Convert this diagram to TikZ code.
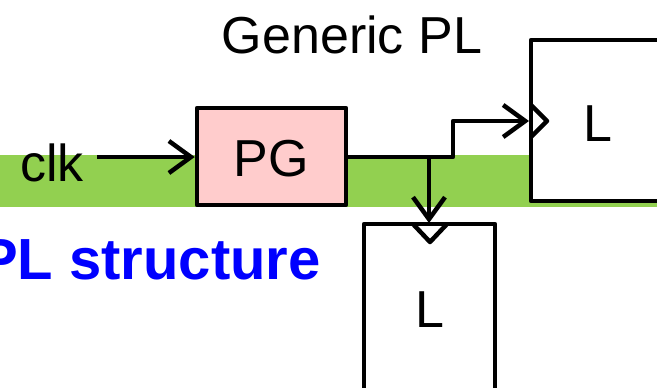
\documentclass[tikz,border=0pt]{standalone}
\usepackage{fontspec}
\setmainfont{Liberation Sans}
\usetikzlibrary{arrows.meta}
\definecolor{bargreen}{HTML}{92D050}
\definecolor{pgpink}{HTML}{FFCCCC}
\definecolor{titleblue}{HTML}{0000FF}
\begin{document}
\begin{tikzpicture}[x=1pt,y=-1pt,
  lbl/.style={font=\fontsize{52}{60}\selectfont, inner sep=0pt, anchor=base},
  blk/.style={draw=black, line width=4.5pt, line join=round, inner sep=0pt},
  wire/.style={line width=4.5pt, line join=round},
  tip/.style={-{Straight Barb[length=22pt,width=32pt,line width=4.5pt]}}
]
\useasboundingbox (0,0) rectangle (657,388);
% green band
\fill[bargreen] (0,155) rectangle (657,207);
% blocks
\node[blk, fill=pgpink, minimum width=149pt, minimum height=97pt] (pg) at (271.5,156.5) {};
\node[blk, fill=white, minimum width=169pt, minimum height=161pt] (la) at (615.5,120.5) {};
\node[blk, fill=white, minimum width=131pt, minimum height=196pt] (lb) at (429.5,322) {};
% clock triangles
\draw[wire] (531,105) -- (547,121) -- (531,137);
\draw[wire] (413,224) -- (430,242) -- (447,224);
% texts
\node[lbl] (title) at (352,53) {Generic PL};
\node[lbl, anchor=base west] (clk) at (20,181) {clk};
\node[lbl] (pgt) at (271.5,176) {PG};
\node[lbl] (lat) at (598,141) {L};
\node[lbl] (lbt) at (430,327) {L};
\node[font=\bfseries\fontsize{58}{66}\selectfont, text=titleblue, inner sep=0pt, anchor=base east] (sub) at (321,279) {PL structure};
% connectors
\coordinate (cs) at (97,157);
\coordinate (j) at (429,157);
\coordinate (ta) at (529,121);
\coordinate (tb) at (429,223);
\draw[wire, tip] (cs) -- (pg.west |- cs);
\draw[wire, tip] (pg.east |- j) -- (453,157) |- (ta);
\draw[wire, tip] (j) -- (tb);
\end{tikzpicture}
\end{document}
